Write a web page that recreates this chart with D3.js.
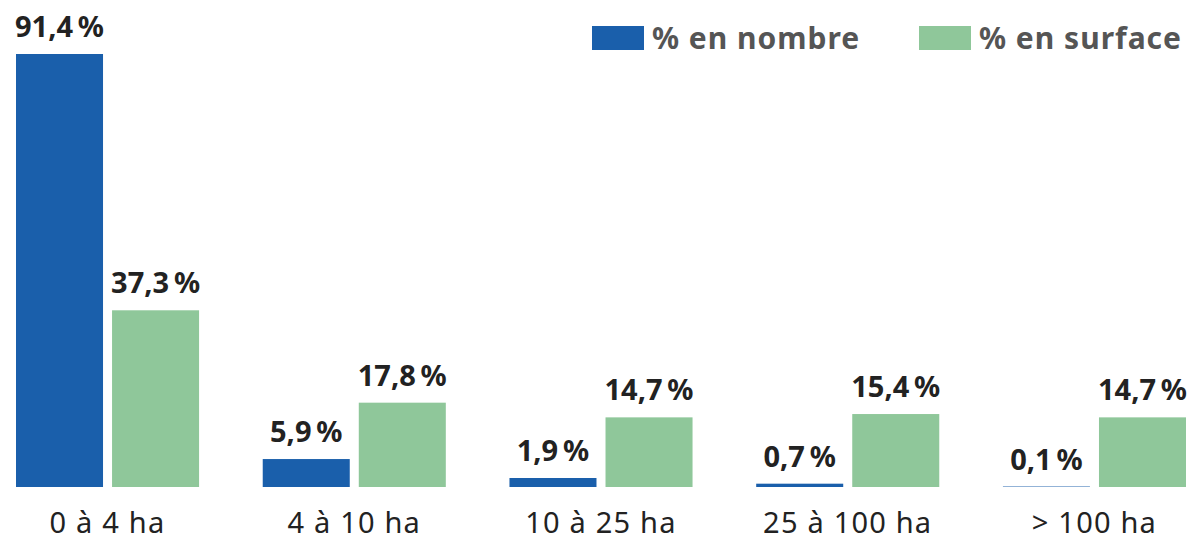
<!DOCTYPE html>
<html>
<head>
<meta charset="utf-8">
<script src="https://cdn.jsdelivr.net/npm/d3@7"></script>
<style>
  body { margin: 0; background: #fff; }
  svg { display: block; }
</style>
</head>
<body>
<div id="chart"></div>
<script>
// Répartition des exploitations par taille
const categories = ["0 à 4 ha", "4 à 10 ha", "10 à 25 ha", "25 à 100 ha", "> 100 ha"];
const seriesNames = ["% en nombre", "% en surface"];
const nombre = [91.4, 5.9, 1.9, 0.7, 0.1];
const surface = [37.3, 17.8, 14.7, 15.4, 14.7];
const colors = ["#1a5fab", "#8fc79a"];

const width = 1195, height = 542;
const baseline = 487;

const svg = d3.select("#chart").append("svg")
  .attr("width", width)
  .attr("height", height);

const x0 = d3.scaleBand()
  .domain(categories)
  .range([16, 1186])
  .paddingInner(0.258)
  .paddingOuter(0);

const x1 = d3.scaleBand()
  .domain(seriesNames)
  .range([0, x0.bandwidth()])
  .paddingInner(0.094);

const y = d3.scaleLinear()
  .domain([0, 91.4])
  .range([baseline, 54]);

const color = d3.scaleOrdinal().domain(seriesNames).range(colors);

const fmt = v => d3.format(".1f")(v).replace(".", ",") + "\u2009%";

const rows = categories.map((c, i) => ({
  cat: c,
  values: [
    { key: seriesNames[0], value: nombre[i] },
    { key: seriesNames[1], value: surface[i] }
  ]
}));

const groups = svg.selectAll(".group")
  .data(rows)
  .enter()
  .append("g")
  .attr("class", "group")
  .attr("transform", d => `translate(${x0(d.cat)},0)`);

groups.selectAll("rect")
  .data(d => d.values)
  .enter()
  .append("rect")
  .attr("x", d => x1(d.key))
  .attr("y", d => y(d.value))
  .attr("width", x1.bandwidth())
  .attr("height", d => baseline - y(d.value))
  .attr("fill", d => color(d.key));

groups.selectAll(".val")
  .data(d => d.values)
  .enter()
  .append("text")
  .attr("class", "val")
  .attr("x", d => x1(d.key) + x1.bandwidth() / 2)
  .attr("y", d => y(d.value) - 17)
  .attr("text-anchor", "middle")
  .attr("font-family", "'Noto Sans', sans-serif")
  .attr("font-weight", 700)
  .attr("font-size", "29px")
  .attr("fill", "#222")
  .text(d => fmt(d.value));

// étiquettes des catégories
svg.selectAll(".cat")
  .data(categories)
  .enter()
  .append("text")
  .attr("class", "cat")
  .attr("x", d => x0(d) + x0.bandwidth() / 2)
  .attr("y", 533)
  .attr("text-anchor", "middle")
  .attr("font-family", "'Noto Sans', sans-serif")
  .attr("font-size", "29px")
  .attr("letter-spacing", "1.2px")
  .attr("fill", "#222")
  .text(d => d);

// légende
const legendX = [592, 919];
const legend = svg.selectAll(".legend")
  .data(seriesNames)
  .enter()
  .append("g")
  .attr("class", "legend")
  .attr("transform", (d, i) => `translate(${legendX[i]},26)`);

legend.append("rect")
  .attr("width", 52)
  .attr("height", 24)
  .attr("fill", d => color(d));

legend.append("text")
  .attr("x", 60)
  .attr("y", 23)
  .attr("font-family", "'Noto Sans', sans-serif")
  .attr("font-weight", 700)
  .attr("font-size", "30px")
  .attr("letter-spacing", "1px")
  .attr("fill", "#555")
  .text(d => d);
</script>
</body>
</html>
